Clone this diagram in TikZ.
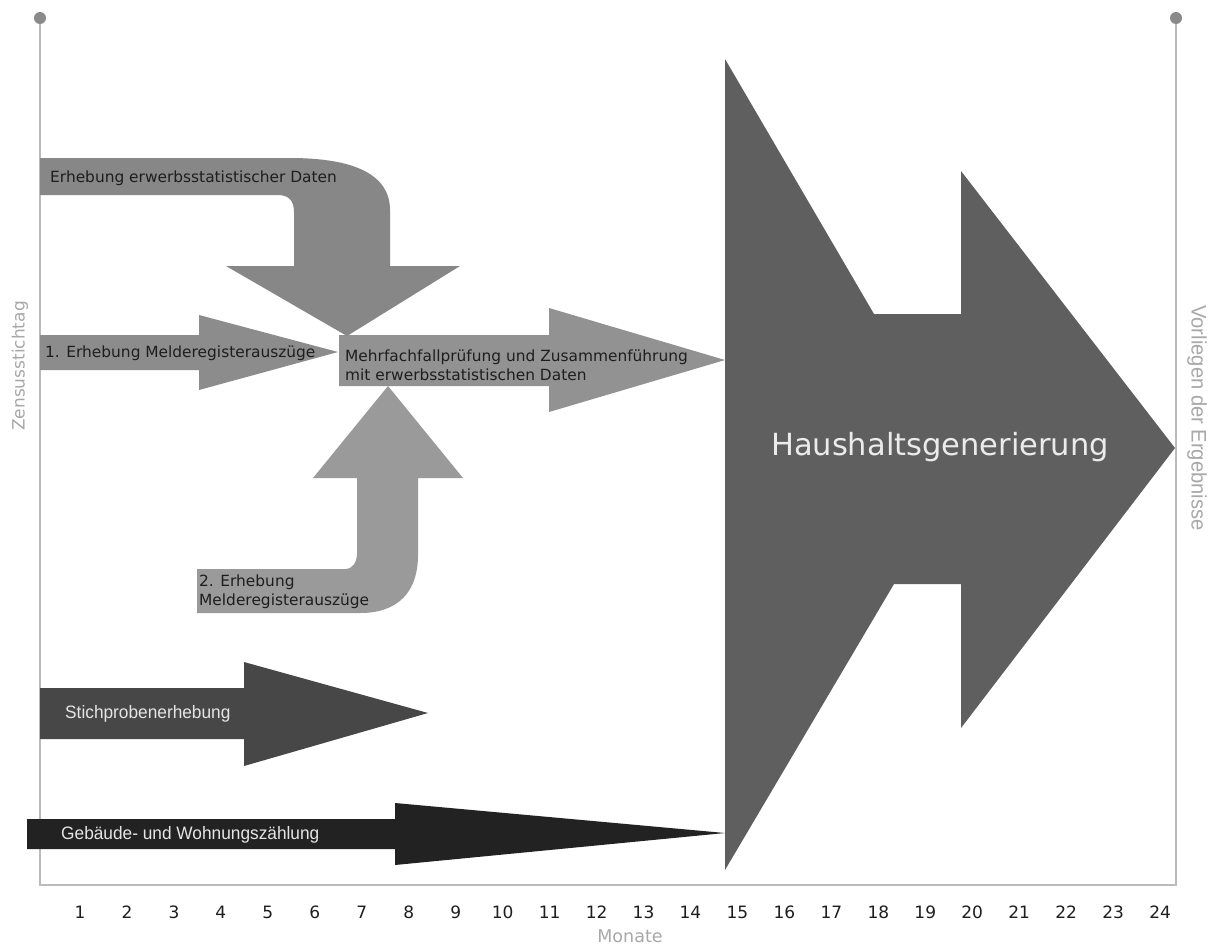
\documentclass[tikz,border=0pt]{standalone}
\usepackage{fontspec}
\setmainfont{DejaVu Sans}
\newfontfamily\narrowfont[FakeStretch=0.96]{Liberation Sans}
\definecolor{axisc}{HTML}{BBBBBB}
\definecolor{dotc}{HTML}{8A8A8A}
\definecolor{topc}{HTML}{878787}
\definecolor{firstc}{HTML}{8C8C8C}
\definecolor{midc}{HTML}{929292}
\definecolor{secondc}{HTML}{9A9A9A}
\definecolor{stichc}{HTML}{474747}
\definecolor{gebc}{HTML}{222222}
\definecolor{bigc}{HTML}{5F5F5F}
\definecolor{txtc}{HTML}{1E1E1E}
\definecolor{lblc}{HTML}{A8A8A8}
\begin{document}
\begin{tikzpicture}[x=1pt,y=-1pt,
  axisline/.style={draw=axisc,line width=2pt},
  darklbl/.style={text=txtc,inner sep=0pt,anchor=west,align=left,font=\fontsize{15.4}{19}\selectfont},
  narrowlbl/.style={text=white!90!black,inner sep=0pt,anchor=west,font=\narrowfont\fontsize{18}{20}\selectfont},
  monthlbl/.style={text=txtc,inner sep=0pt,font=\fontsize{17}{19}\selectfont},
  sidelbl/.style={text=lblc,inner sep=0pt}]
\useasboundingbox (0,0) rectangle (1215,946);
\fill[white] (0,0) rectangle (1215,946);

% axes
\coordinate (tl) at (40,18);
\coordinate (bl) at (40,885);
\coordinate (br) at (1176,885);
\coordinate (tr) at (1176,18);
\draw[axisline] (tl) -- (bl) -- (br) -- (tr);
\fill[dotc] (tl) circle (6pt);
\fill[dotc] (tr) circle (6pt);

% top bent arrow
\fill[topc] (40,158) -- (290,158) .. controls (355,158) and (390,175) .. (390,210)
  -- (390,266) -- (460,266) -- (347,336) -- (226,266) -- (294,266) -- (294,212)
  .. controls (294,201) and (289,195) .. (278,195) -- (40,195) -- cycle;

% first arrow
\fill[firstc] (40,335) -- (199,335) -- (199,315) -- (338,352) -- (199,390) -- (199,370) -- (40,370) -- cycle;

% central arrow
\fill[midc] (339,335) -- (549,335) -- (549,308) -- (725,360) -- (549,412) -- (549,386) -- (339,386) -- cycle;

% bottom bent arrow
\fill[secondc] (197,569) -- (345,569) .. controls (353,569) and (357,562) .. (357,553)
  -- (357,478) -- (313,478) -- (388,386) -- (463,478) -- (418,478) -- (418,555)
  .. controls (418,592) and (398,613) .. (360,613) -- (197,613) -- cycle;

% Stichproben
\fill[stichc] (40,688) -- (244,688) -- (244,662) -- (428,713) -- (244,766) -- (244,739) -- (40,739) -- cycle;

% Gebaeude
\fill[gebc] (27,819) -- (395,819) -- (395,803) -- (725,833) -- (395,865) -- (395,849) -- (27,849) -- cycle;

% big arrow
\fill[bigc] (725,59) -- (874,314) -- (961,314) -- (961,171) -- (1175,448) -- (961,728)
  -- (961,584) -- (894,584) -- (725,870) -- cycle;

% labels
\node[darklbl] (l1) at (50,178) {Erhebung erwerbsstatistischer Daten};
\node[darklbl] (l2) at (45,353) {1. Erhebung Melderegisterauszüge};
\node[darklbl] (l3) at (345,365) {Mehrfachfallprüfung und Zusammenführung\\mit erwerbsstatistischen Daten};
\node[darklbl] (l4) at (199,592) {2. Erhebung\\Melderegisterauszüge};
\node[narrowlbl] (l5) at (65,714) {Stichprobenerhebung};
\node[narrowlbl] (l6) at (61,835) {Gebäude- und Wohnungszählung};
\node[text=white!92!black,inner sep=0pt,font=\fontsize{30.5}{34}\selectfont] (hg) at (940,447) {Haushaltsgenerierung};

\foreach \m in {1,...,24}
  \node[monthlbl] (m\m) at ({80+(\m-1)*46.96},912) {\m};
\node[sidelbl,font=\fontsize{17.5}{20}\selectfont] (mon) at (630,936) {Monate};
\node[sidelbl,rotate=90,font=\fontsize{17}{19}\selectfont] (zs) at (20,366) {Zensusstichtag};
\node[sidelbl,rotate=-90,font=\narrowfont\fontsize{21}{23}\selectfont] (ve) at (1197,418) {Vorliegen der Ergebnisse};
\end{tikzpicture}
\end{document}
